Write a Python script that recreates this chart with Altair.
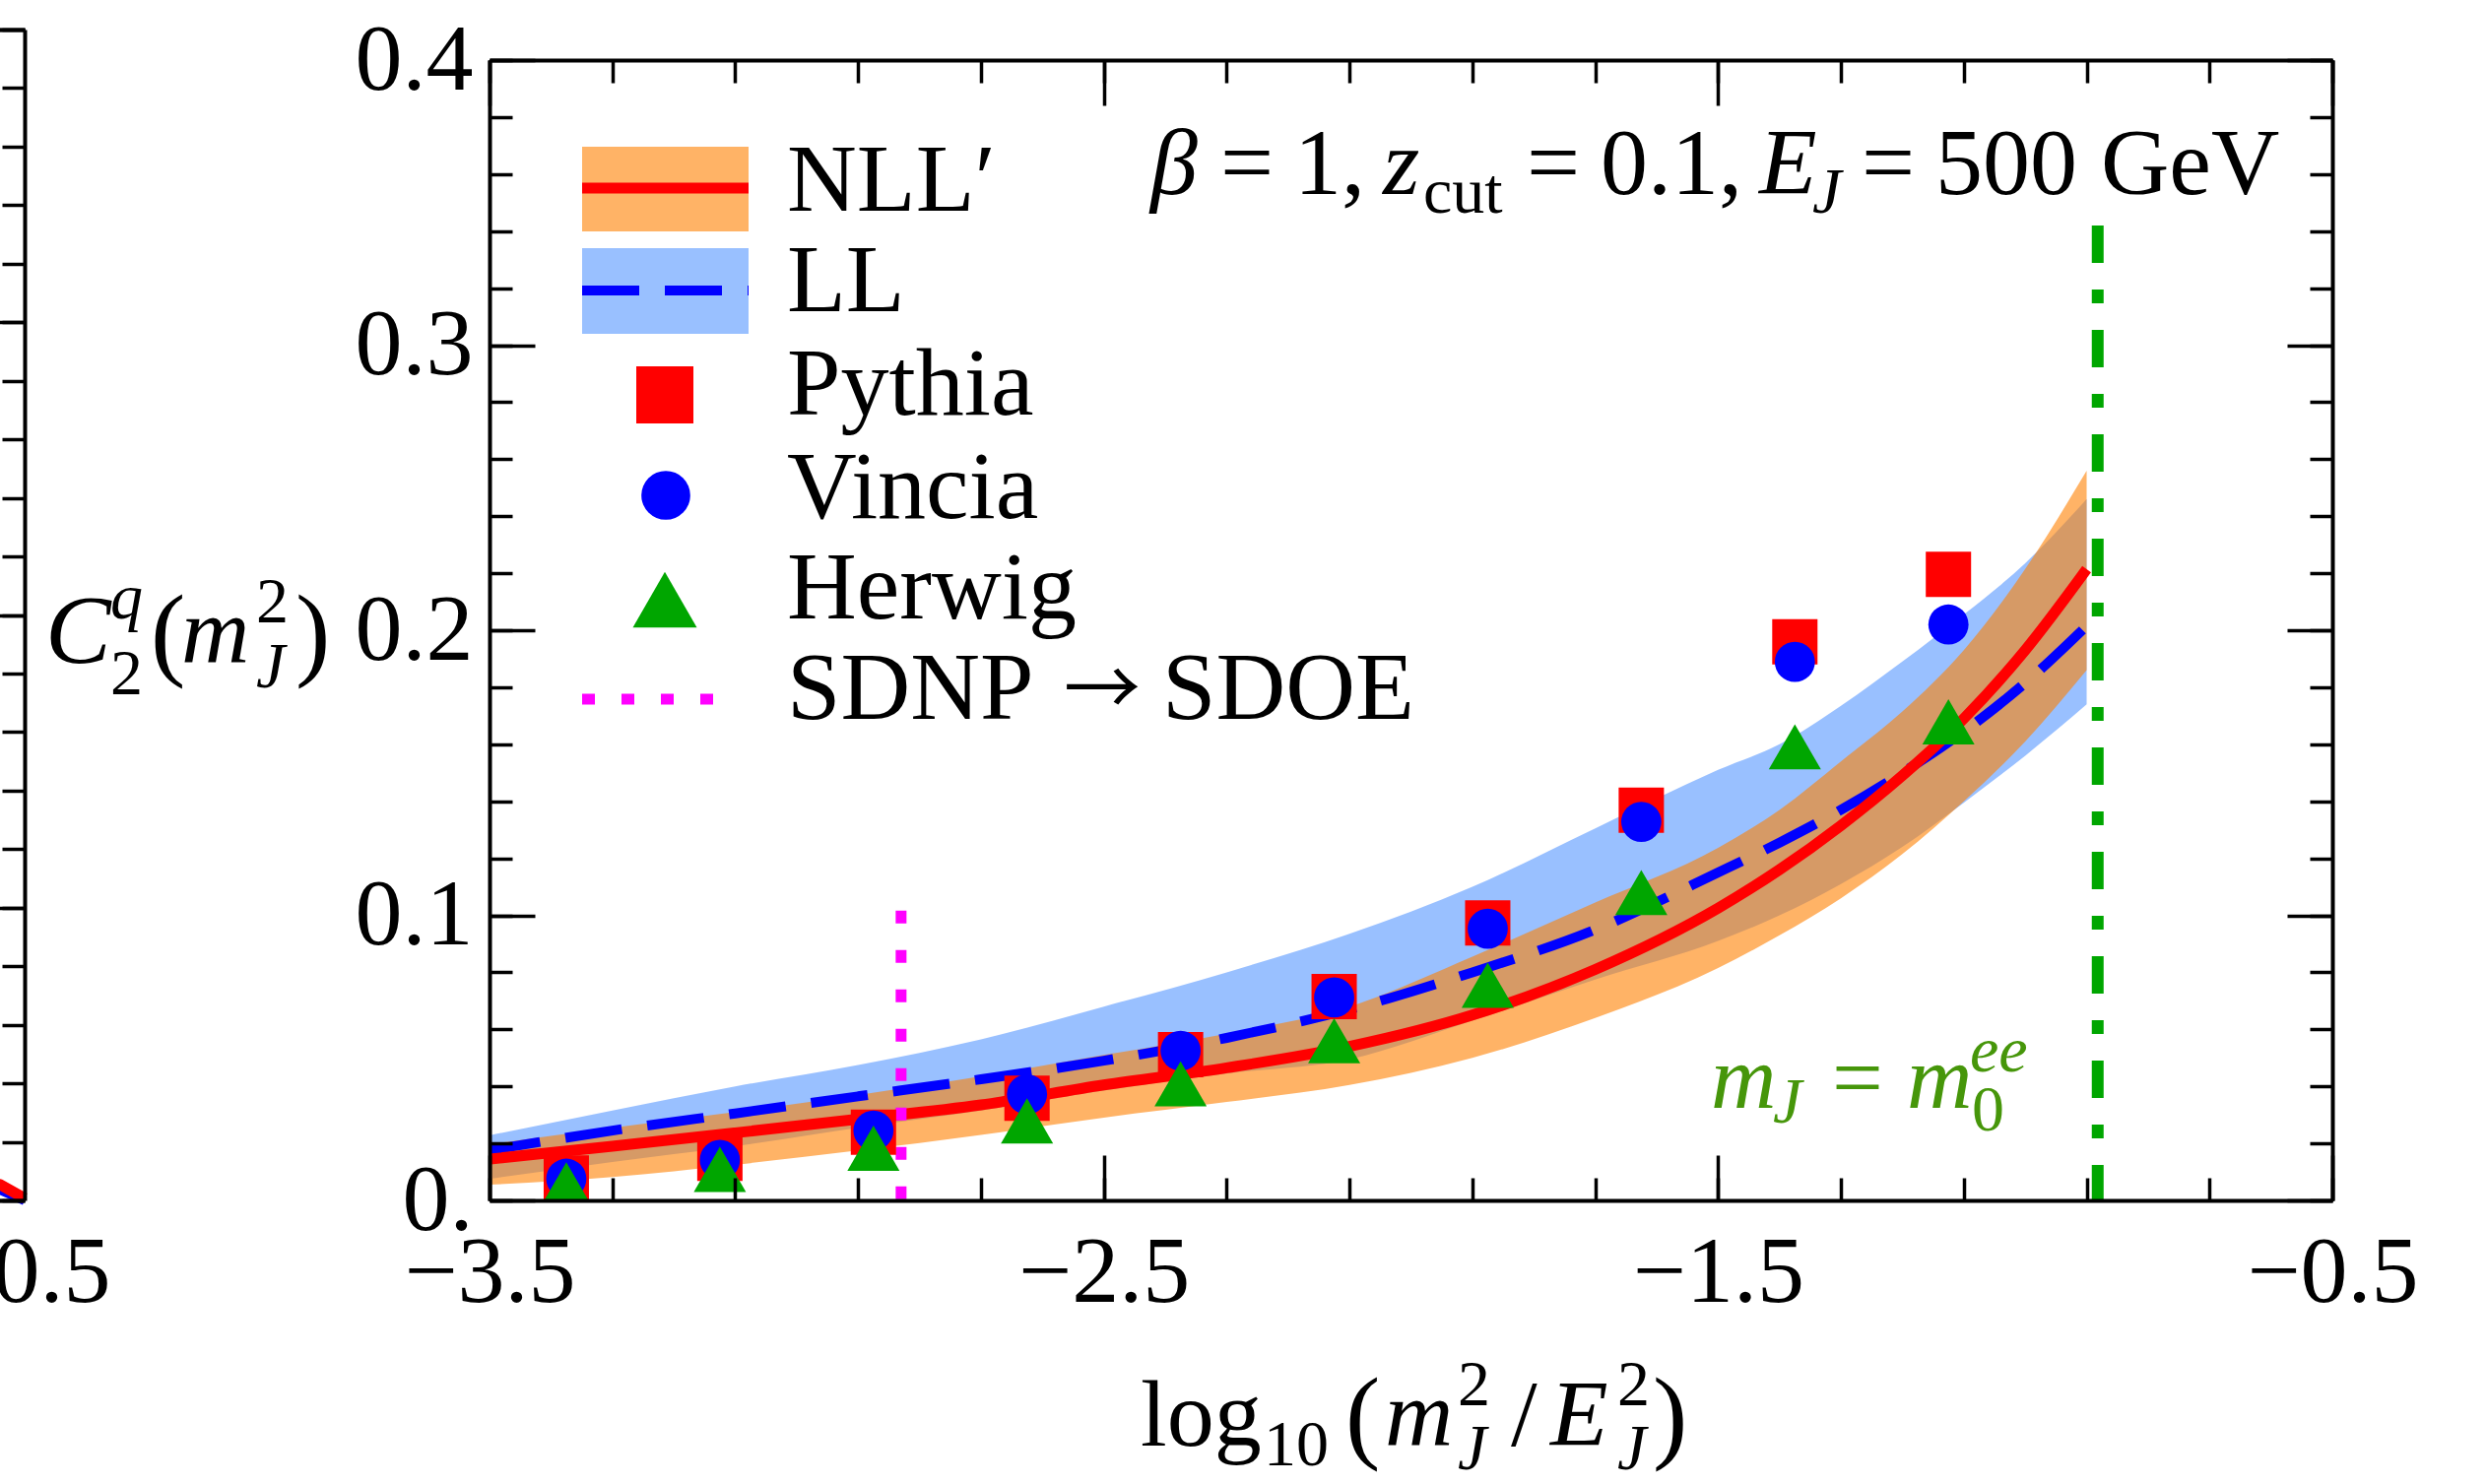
import altair as alt
import pandas as pd

# ---------------- data ----------------
# resummed curves sampled in log10(m_J^2/E_J^2)
x_curve = [-3.5, -3.3, -3.1, -2.9, -2.7, -2.5, -2.3, -2.1, -1.9, -1.7,
           -1.5, -1.4, -1.3, -1.2, -1.1, -1.0, -0.9]
nll_lo = [0.0055, 0.0082, 0.0125, 0.0175, 0.0230, 0.0290, 0.0345, 0.0405, 0.0500, 0.0640,
          0.0815, 0.0930, 0.1060, 0.1215, 0.1400, 0.1610, 0.1860]
nll_mid = [0.0145, 0.0190, 0.0237, 0.0285, 0.0335, 0.0405, 0.0465, 0.0540, 0.0650, 0.0810,
           0.1025, 0.1160, 0.1315, 0.1490, 0.1690, 0.1930, 0.2214]
nll_hi = [0.0197, 0.0255, 0.0310, 0.0370, 0.0435, 0.0510, 0.0585, 0.0680, 0.0855, 0.1045,
          0.1237, 0.1370, 0.1540, 0.1715, 0.1930, 0.2215, 0.2560]
ll_lo = [0.0076, 0.0135, 0.0190, 0.0255, 0.0315, 0.0385, 0.0445, 0.0495, 0.0630, 0.0775,
         0.0910, 0.1000, 0.1110, 0.1240, 0.1395, 0.1560, 0.1740]
ll_mid = [0.0176, 0.0245, 0.0305, 0.0365, 0.0425, 0.0490, 0.0570, 0.0670, 0.0800, 0.0950,
          0.1150, 0.1255, 0.1370, 0.1500, 0.1645, 0.1815, 0.2015]
ll_hi = [0.0228, 0.0315, 0.0400, 0.0475, 0.0565, 0.0680, 0.0800, 0.0935, 0.1100, 0.1305,
         0.1510, 0.1600, 0.1735, 0.1890, 0.2055, 0.2235, 0.2460]

# Monte Carlo points
x_mc = [-3.375, -3.125, -2.875, -2.625, -2.375, -2.125, -1.875, -1.625, -1.375, -1.125]
pythia = [0.0079, 0.0148, 0.0239, 0.0358, 0.0511, 0.0715, 0.0973, 0.1369, 0.1959, 0.2196]
vincia = [0.0076, 0.0142, 0.0245, 0.0372, 0.0525, 0.0712, 0.0953, 0.1328, 0.1889, 0.2020]
herwig = [0.0055, 0.0109, 0.0183, 0.0279, 0.0409, 0.0560, 0.0755, 0.1080, 0.1591, 0.1679]

# vertical markers
sdnp_x, sdnp_top = -2.83, 0.1016
m0_x, m0_top = -0.882, 0.342

# edge of the neighbouring panel
left_x = [-0.7, -0.6, -0.54, -0.5]
left_nll = [0.0130, 0.0090, 0.0054, 0.0007]
left_ll = [0.0100, 0.0065, 0.0037, 0.0000]

# ticks
x_major = [-3.5, -2.5, -1.5, -0.5]
x_minor = [-3.5, -3.3, -3.1, -2.9, -2.7, -2.5, -2.3, -2.1, -1.9, -1.7,
           -1.5, -1.3, -1.1, -0.9, -0.7, -0.5]
y_major = [0.0, 0.1, 0.2, 0.3, 0.4]
y_minor = [0.0, 0.02, 0.04, 0.06, 0.08, 0.1, 0.12, 0.14, 0.16, 0.18, 0.2,
           0.22, 0.24, 0.26, 0.28, 0.3, 0.32, 0.34, 0.36, 0.38, 0.4]

# ---------------- layout / style ----------------
W, H = 1871, 1158
PAD_L, PAD_T = 497, 61
SERIF = "Liberation Serif"
FS = 96
FS_SMALL = 66

ORANGE = "rgb(255,128,0)"
LBLUE = "rgb(0,98,255)"
RED = "#FF0000"
BLUE = "#0000FF"
GREEN = "#00A600"
MAGENTA = "#FF00FF"
TEXT_GREEN = "rgb(70,150,10)"

XS = alt.Scale(domain=[-3.5, -0.5], nice=False, zero=False)
YS = alt.Scale(domain=[0, 0.4], nice=False, zero=False)
# scales of the neighbouring panel, whose right edge sits left of this one
RXS = alt.Scale(domain=[-3.5, -0.5], range=[-2343, -472], nice=False, zero=False)
RYS = alt.Scale(domain=[0, 0.4], range=[1158, -31], nice=False, zero=False)


def tick_axis(orient, values, size, offset, domain=False):
    return alt.Axis(orient=orient, offset=offset, values=values, tickSize=size,
                    tickWidth=3.5, tickColor="black", ticks=True, labels=False,
                    domain=domain, domainWidth=4, domainColor="black",
                    grid=False, title=None, zindex=1)


x_lab_axis = alt.Axis(orient="bottom", values=x_major, format=".1f", labelFont=SERIF,
                      labelFontSize=FS, labelColor="black", labelPadding=26,
                      ticks=False, tickSize=0, domain=True, domainWidth=4,
                      domainColor="black", grid=False, title=None,
                      labelOverlap=False, labelFlush=False, zindex=1)
y_lab_axis = alt.Axis(orient="left", values=y_major,
                      labelExpr="datum.value == 0 ? '0.' : format(datum.value, '.1f')",
                      labelFont=SERIF, labelFontSize=FS, labelColor="black",
                      labelPadding=17, ticks=False, tickSize=0, domain=True,
                      domainWidth=4, domainColor="black", grid=False, title=None,
                      labelOverlap=False, zindex=1)

curves = pd.DataFrame({"x": x_curve, "nll_lo": nll_lo, "nll_mid": nll_mid, "nll_hi": nll_hi,
                       "ll_lo": ll_lo, "ll_mid": ll_mid, "ll_hi": ll_hi})
mc = pd.DataFrame({"x": x_mc, "pythia": pythia, "vincia": vincia, "herwig": herwig})
left_df = pd.DataFrame({"x": left_x, "nll": left_nll, "ll": left_ll})


def X(field, axis=None, scale=XS):
    return alt.X(field, type="quantitative", scale=scale, axis=axis)


def Y(field, axis=None, scale=YS):
    return alt.Y(field, type="quantitative", scale=scale, axis=axis)


base = alt.Chart(curves)

ll_band = base.mark_area(color=LBLUE, opacity=0.4, interpolate="monotone").encode(
    x=X("x", x_lab_axis), y=Y("ll_lo", y_lab_axis), y2="ll_hi")
nll_band = base.mark_area(color=ORANGE, opacity=0.6, interpolate="monotone").encode(
    x=X("x", tick_axis("top", x_minor, 23, -H)),
    y=Y("nll_lo", tick_axis("right", y_minor, 23, -W)), y2="nll_hi")
ll_line = base.mark_line(color=BLUE, strokeWidth=10, strokeDash=[58, 26],
                         strokeDashOffset=6, strokeCap="butt",
                         interpolate="monotone").encode(
    x=X("x", tick_axis("top", x_major, 46, -H)),
    y=Y("ll_mid", tick_axis("right", y_major, 46, -W)))
nll_line = base.mark_line(color=RED, strokeWidth=11, interpolate="monotone").encode(
    x=X("x", tick_axis("bottom", x_minor, 23, -H, domain=True)),
    y=Y("nll_mid", tick_axis("left", y_minor, 23, -W, domain=True)))

sdnp_rule = alt.Chart(pd.DataFrame({"x": [sdnp_x], "top": [sdnp_top], "bot": [0.0]})).mark_rule(
    color=MAGENTA, strokeWidth=11, strokeDash=[13, 27], strokeCap="butt").encode(
    x=X("x", tick_axis("bottom", x_major, 46, -H)),
    y=Y("top", tick_axis("left", y_major, 46, -W)), y2="bot")
m0_rule = alt.Chart(pd.DataFrame({"x": [m0_x], "top": [m0_top], "bot": [0.0]})).mark_rule(
    color=GREEN, strokeWidth=12, strokeDash=[38, 27, 14, 27], strokeCap="butt").encode(
    x=X("x"), y=Y("top"), y2="bot")

pts_pythia = alt.Chart(mc).mark_square(color=RED, size=2116, opacity=1, clip=True).encode(
    x=X("x"), y=Y("pythia"))
pts_vincia = alt.Chart(mc).mark_circle(color=BLUE, size=1662, opacity=1, clip=True).encode(
    x=X("x"), y=Y("vincia"))
pts_herwig = alt.Chart(mc).mark_point(shape="triangle-up", filled=True, color=GREEN,
                                      size=2809, opacity=1, clip=True).encode(
    x=X("x"), y=Y("herwig"))

# right edge of the neighbouring panel
left_ll_line = alt.Chart(left_df).mark_line(color=BLUE, strokeWidth=10).encode(
    x=X("x", alt.Axis(orient="bottom", values=[-0.5], format=".1f", labelFont=SERIF,
                      labelFontSize=FS, labelColor="black", labelPadding=26, ticks=False,
                      tickSize=0, domain=True, domainWidth=4, domainColor="black",
                      grid=False, title=None, labelFlush=False, zindex=1), RXS),
    y=Y("ll", tick_axis("left", y_minor, 23, 472, domain=True), RYS))
left_nll_line = alt.Chart(left_df).mark_line(color=RED, strokeWidth=11).encode(
    x=X("x", alt.Axis(orient="top", offset=31, ticks=False, labels=False, domain=True,
                      domainWidth=4, domainColor="black", grid=False, title=None,
                      zindex=1), RXS),
    y=Y("nll", tick_axis("left", y_major, 46, 472), RYS))


def text(s, x, y, size=FS, italic=False, color="black", align="left", font=SERIF):
    """Text placed at page coordinates (x, baseline y)."""
    return alt.Chart(pd.DataFrame({"t": [s]})).mark_text(
        align=align, baseline="alphabetic", font=font, fontSize=size,
        fontStyle="italic" if italic else "normal", color=color).encode(
        x=alt.value(x - PAD_L), y=alt.value(y - PAD_T), text="t:N")


def swatch_rect(name, color, opacity, y0, y1):
    return alt.Chart(pd.DataFrame({"n": [name]})).mark_rect(color=color, opacity=opacity).encode(
        x=alt.value(591 - PAD_L), x2=alt.value(760 - PAD_L),
        y=alt.value(y0 - PAD_T), y2=alt.value(y1 - PAD_T))


def swatch_rule(name, color, width, y, dash=None, x1=760):
    kw = dict(color=color, strokeWidth=width, strokeCap="butt")
    if dash:
        kw["strokeDash"] = dash
    return alt.Chart(pd.DataFrame({"n": [name]})).mark_rule(**kw).encode(
        x=alt.value(591 - PAD_L), x2=alt.value(x1 - PAD_L), y=alt.value(y - PAD_T))


legend = [
    swatch_rect("NLL", ORANGE, 0.6, 149, 235),
    swatch_rule("NLL", RED, 11, 191),
    swatch_rect("LL", LBLUE, 0.4, 252, 339),
    swatch_rule("LL", BLUE, 10, 295, dash=[58, 26]),
    alt.Chart(pd.DataFrame({"n": ["Pythia"]})).mark_square(color=RED, size=3364, opacity=1).encode(
        x=alt.value(675 - PAD_L), y=alt.value(401 - PAD_T)),
    alt.Chart(pd.DataFrame({"n": ["Vincia"]})).mark_circle(color=BLUE, size=2463, opacity=1).encode(
        x=alt.value(676 - PAD_L), y=alt.value(503 - PAD_T)),
    alt.Chart(pd.DataFrame({"n": ["Herwig"]})).mark_point(
        shape="triangle-up", filled=True, color=GREEN, size=4225, opacity=1).encode(
        x=alt.value(675 - PAD_L), y=alt.value(609 - PAD_T)),
    swatch_rule("SDNP", MAGENTA, 11, 710, dash=[13, 27], x1=727),
]
legend_names = ["NLL\u2032", "LL", "Pythia", "Vincia", "Herwig"]
legend_baselines = [214, 316, 421, 526, 628]
legend += [text(n, 799, b, size=98) for n, b in zip(legend_names, legend_baselines)]
legend += [
    text("SDNP", 799, 730, size=98),
    text("\u2192", 1080, 727, size=78, font="Noto Sans CJK JP"),
    text("SDOE", 1180, 730, size=98),
]

# parameter line: beta = 1, z_cut = 0.1, E_J = 500 GeV
params = [
    text("\u03b2", 1168, 197, italic=True),
    text("=", 1239, 197),
    text("1,", 1314, 197),
    text("z", 1404, 197, italic=True),
    text("cut", 1445, 216, size=FS_SMALL),
    text("=", 1550, 197),
    text("0.1,", 1625, 197),
    text("E", 1786, 197, italic=True),
    text("J", 1840, 216, size=FS_SMALL, italic=True),
    text("=", 1890, 197),
    text("500 GeV", 1965, 197),
]

# m_J = m_0^ee marker label
m0_label = [
    text("m", 1737, 1125, size=92, italic=True, color=TEXT_GREEN),
    text("J", 1800, 1140, size=FS_SMALL, italic=True, color=TEXT_GREEN),
    text("=", 1860, 1125, size=92, color=TEXT_GREEN),
    text("m", 1936, 1125, size=92, italic=True, color=TEXT_GREEN),
    text("0", 2002, 1148, size=FS_SMALL, color=TEXT_GREEN),
    text("ee", 2000, 1088, size=FS_SMALL, italic=True, color=TEXT_GREEN),
]

# axis titles built from pieces (sub/superscripts)
x_title = [
    text("log", 1158, 1468),
    text("10", 1283, 1488, size=FS_SMALL),
    text("(", 1366, 1472, size=106),
    text("m", 1406, 1468, italic=True),
    text("2", 1480, 1427, size=FS_SMALL),
    text("J", 1480, 1492, size=FS_SMALL, italic=True),
    text("/", 1534, 1468),
    text("E", 1574, 1468, italic=True),
    text("2", 1642, 1427, size=FS_SMALL),
    text("J", 1642, 1492, size=FS_SMALL, italic=True),
    text(")", 1678, 1472, size=106),
]
y_title = [
    text("C", 46, 673, size=100, italic=True),
    text("q", 112, 628, size=FS_SMALL, italic=True),
    text("2", 112, 705, size=FS_SMALL),
    text("(", 153, 677, size=106),
    text("m", 184, 673, italic=True),
    text("2", 260, 632, size=FS_SMALL),
    text("J", 260, 698, size=FS_SMALL, italic=True),
    text(")", 300, 677, size=106),
]

layers = ([ll_band, nll_band, ll_line, nll_line, sdnp_rule, m0_rule,
           pts_pythia, pts_vincia, pts_herwig, left_ll_line, left_nll_line]
          + legend + params + m0_label + x_title + y_title)

chart = alt.layer(*layers).resolve_scale(
    x="independent", y="independent"
).properties(
    width=W, height=H,
    autosize=alt.AutoSizeParams(type="none"),
    padding={"left": PAD_L, "top": PAD_T, "right": 2525 - PAD_L - W, "bottom": 1507 - PAD_T - H},
    background="white",
).configure_view(stroke=None)

chart.save("out.html", embed_options={"renderer": "svg", "actions": False})
